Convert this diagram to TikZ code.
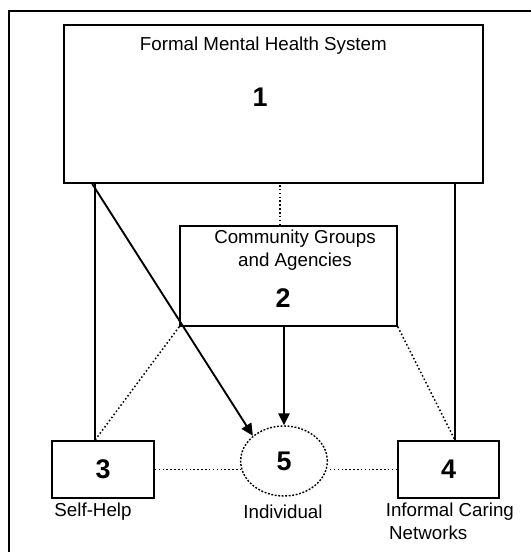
\documentclass[tikz,border=0pt]{standalone}
\usepackage{fontspec}
\setmainfont{Liberation Sans}
\usetikzlibrary{arrows.meta,shapes.geometric,calc}
\tikzset{
  sysbox/.style={draw=black,line width=1.4pt,fill=white,inner sep=0pt},
  indell/.style={ellipse,draw=black,line width=1.2pt,dash pattern=on 1.6pt off 1.4pt,minimum width=2.6cm,minimum height=2.1cm,inner sep=0pt},
  numtxt/.style={font=\fontsize{23}{26}\selectfont\bfseries},
  labtxt/.style={font=\fontsize{16}{19.5}\selectfont,align=center},
  sarr/.style={-{Triangle[length=3.6mm,width=3.4mm]},line width=1.6pt},
  sline/.style={line width=1pt},
  dline/.style={line width=1.3pt,dotted}
}

\begin{document}
\begin{tikzpicture}
  \useasboundingbox (0,0) rectangle (15.93,16.56);
  % frame
  \draw[line width=1.2pt] (0.27,-0.2) -- (0.27,16.23) -- (16.2,16.23);
  % formal system
  \node[sysbox,minimum width=12.57cm,minimum height=4.74cm] (fm) at (8.205,13.44) {};
  \node[labtxt] (fmt) at (7.9,15.18) {Formal Mental Health System};
  \node[numtxt] (fmn) at (7.8,13.65) {1};
  % community groups
  \node[sysbox,minimum width=6.51cm,minimum height=3.0cm] (cg) at (8.655,8.28) {};
  \node[labtxt] (cgt) at (8.85,9.05) {Community Groups\\and Agencies};
  \node[numtxt] (cgn) at (8.49,7.62) {2};
  % bottom row
  \node[sysbox,numtxt,minimum width=3.06cm,minimum height=1.71cm] (sh) at (3.09,2.475) {3};
  \node[sysbox,numtxt,minimum width=3.03cm,minimum height=1.71cm] (ic) at (13.455,2.475) {4};
  \node[indell,numtxt] (ind) at (8.52,2.73) {5};
  \node[labtxt] (shl) at (2.79,1.2) {Self-Help};
  \node[labtxt] (indl) at (8.49,1.2) {Individual};
  \node[labtxt,align=left,anchor=north west] (icl) at (11.45,1.6) {Informal Caring\\\hspace{0.1cm}Networks};
  % links
  \draw[sline] ([xshift=-0.24cm]sh.north) -- ([xshift=-0.24cm]sh.north |- fm.south);
  \draw[sline] ([xshift=0.195cm]ic.north) -- ([xshift=0.195cm]ic.north |- fm.south);
  \draw[dline] ([xshift=-0.255cm]cg.north) -- ([xshift=-0.255cm]cg.north |- fm.south);
  \draw[dline] (cg.south west) -- ([xshift=-0.24cm]sh.north);
  \draw[dline] (cg.south east) -- ([xshift=0.195cm]ic.north);
  \draw[dline] (sh.east) -- (sh.east -| ind.west);
  \draw[dline] (ic.west) -- (ic.west -| ind.east);
  \draw[sarr] ([xshift=0.87cm]fm.south west) -- (ind.north west);
  \draw[sarr] (ind.north |- cg.south) -- (ind.north);
\end{tikzpicture}
\end{document}
